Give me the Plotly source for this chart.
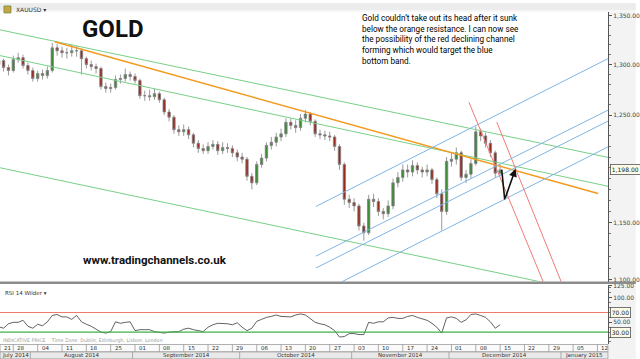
import math
import pandas as pd
import plotly.graph_objects as go

# ---------------- data ----------------
dates = pd.bdate_range("2014-07-23", "2014-12-15")
day_index = list(range(2, 2 + len(dates)))   # trading-day index, 0 = Mon 21 Jul 2014

opens = [1300,1304,1297,1294,1305,1307,1299,1294,1286,1291,
         1289,1294,1317,1314,1312,1312,1314,1314,1306,1300,
         1298,1296,1278,1276,1277,1285,1286,1290,1288,1284,
         1269,1269,1268,1271,1265,1253,1248,1236,1234,1236,
         1231,1223,1218,1216,1220,1222,1216,1219,1218,1214,
         1210,1208,1192,1186,1203,1209,1221,1224,1229,1232,
         1243,1240,1238,1247,1251,1244,1232,1231,1230,1229,
         1220,1203,1171,1168,1165,1147,1141,1171,1169,1160,
         1158,1165,1186,1191,1198,1196,1202,1198,1196,1198,
         1189,1176,1160,1206,1208,1214,1191,1194,1204,1234,
         1230,1223,1214,1195]
closes = [1304,1297,1294,1305,1307,1299,1294,1286,1291,1289,
          1294,1317,1314,1312,1312,1314,1314,1306,1300,1298,
          1296,1278,1276,1277,1285,1286,1290,1288,1284,1269,
          1269,1268,1271,1265,1253,1248,1236,1234,1236,1231,
          1223,1218,1216,1220,1222,1216,1219,1218,1214,1210,
          1208,1192,1186,1203,1209,1221,1224,1229,1232,1243,
          1240,1238,1247,1251,1244,1232,1231,1230,1229,1220,
          1203,1171,1168,1165,1147,1141,1171,1169,1160,1158,
          1165,1186,1191,1198,1196,1202,1198,1196,1198,1189,
          1176,1160,1206,1208,1214,1191,1194,1204,1234,1230,
          1223,1214,1195,1198]
highs = [1309,1306,1300,1309,1312,1310,1302,1297,1294,1295,
         1298,1322,1321,1318,1317,1320,1319,1316,1308,1304,
         1301,1298,1282,1281,1289,1290,1296,1293,1291,1286,
         1274,1275,1276,1273,1267,1256,1250,1240,1241,1239,
         1233,1226,1222,1224,1226,1225,1224,1223,1221,1217,
         1214,1210,1195,1206,1213,1224,1229,1233,1237,1247,
         1247,1245,1251,1255,1253,1246,1236,1235,1234,1231,
         1222,1205,1175,1172,1167,1150,1175,1176,1172,1163,
         1170,1190,1196,1203,1203,1207,1205,1201,1203,1200,
         1191,1180,1210,1214,1219,1216,1198,1208,1239,1237,
         1233,1226,1216,1203]
lows = [1297,1293,1289,1292,1302,1296,1290,1283,1283,1285,
        1286,1292,1309,1307,1306,1308,1308,1290,1296,1294,
        1291,1275,1272,1272,1275,1281,1283,1284,1281,1266,
        1264,1264,1265,1262,1250,1244,1232,1230,1230,1227,
        1219,1214,1213,1213,1217,1212,1213,1214,1210,1206,
        1204,1188,1180,1184,1200,1206,1217,1220,1225,1229,
        1236,1233,1235,1243,1240,1229,1227,1226,1225,1216,
        1198,1166,1163,1160,1143,1134,1139,1164,1156,1153,
        1155,1162,1182,1187,1191,1192,1194,1191,1192,1185,
        1172,1143,1157,1201,1203,1188,1186,1190,1202,1225,
        1219,1210,1191,1192]
rsi = [41,38,47,50,50,54,42,38,46,43,
       51,64,66,61,61,56,64,51,46,42,
       36,30,28,31,51,48,50,51,33,35,
       35,35,31,29,28,30,31,31,36,38,
       35,33,31,40,45,48,48,47,45,49,
       40,33,38,52,56,60,62,65,62,61,
       61,65,67,65,58,50,47,45,40,33,
       20,21,27,27,25,25,50,48,51,51,
       59,60,58,58,62,64,60,57,54,48,
       40,28,59,61,58,50,55,66,67,64,
       60,51,38,45]

# trendlines: (start index, start price, end index, end price)
green_lines = [(2.27, 1335.5, 127.16, 1209.7),
               (2.27, 1309.1, 127.16, 1182.9),
               (2.27, 1200.0, 116.55, 1095.5)]
orange_line = (13.49, 1323.2, 125.12, 1176.2)
blue_lines = [(67.16, 1164.5, 127.16, 1306.0),
              (67.16, 1120.5, 127.16, 1254.8),
              (67.16, 1110.2, 127.16, 1244.2),
              (69.61, 1092.4, 127.16, 1219.6)]
red_lines = [(98.59, 1262.6, 114.92, 1087.8),
             (104.31, 1243.3, 118.59, 1087.8)]
arrow_x = [105.33, 105.94, 108.18]
arrow_p = [1198.2, 1170.8, 1199.1]
last_price = 1198.0

week_ticks = [0,5,10,15,20,25,30,35,40,45,50,55,60,65,70,75,80,85,90,95,100,105,110,115,120,125]
week_labels = ["21","28","04","11","18","25","01","08","15","22","29","06","13","20","27",
               "03","10","17","24","01","08","15","22","29","05","12"]
month_starts = [-10, 8.5, 29.5, 51.5, 74.5, 94.5, 117.5, 140]
month_labels = ["July 2014","August 2014","September 2014","October 2014",
                "November 2014","December 2014","January 2015"]
price_ticks = [1100, 1150, 1250, 1300, 1350]
rsi_ticks = [50, 100, 125]

# ---------------- figure ----------------
W, H = 640, 359
PW, PH = 612, 344          # plot area in pixels
XR = [2.265, 127.16]

def px(xp):   # pixel x -> paper
    return xp / PW
def py(yp):   # pixel y -> paper
    return (PH - yp) / PH

fig = go.Figure()

fig.add_trace(go.Candlestick(
    x=day_index, open=opens, high=highs, low=lows, close=closes,
    increasing=dict(line=dict(color="#808080", width=0.8), fillcolor="#3d8b37"),
    decreasing=dict(line=dict(color="#808080", width=0.8), fillcolor="#9b2a1e"),
    whiskerwidth=0, xaxis="x", yaxis="y", hoverinfo="skip"))

def seg(l, color, width=1.0):
    fig.add_trace(go.Scatter(x=[l[0], l[2]], y=[l[1], l[3]], mode="lines",
                             line=dict(color=color, width=width),
                             xaxis="x", yaxis="y", hoverinfo="skip"))

for l in green_lines:
    seg(l, "#78cf88")
seg(orange_line, "#f39a1e", 1.5)
for l in blue_lines:
    seg(l, "#80b4e6")
for l in red_lines:
    seg(l, "#f27a76")

fig.add_trace(go.Scatter(x=arrow_x[:2], y=arrow_p[:2], mode="lines",
                         line=dict(color="#111", width=1.6), xaxis="x", yaxis="y"))
fig.add_annotation(x=arrow_x[2], y=math.log10(arrow_p[2]), ax=arrow_x[1],
                   ay=math.log10(arrow_p[1]), xref="x", yref="y", axref="x", ayref="y",
                   showarrow=True, arrowhead=2, arrowsize=1, arrowwidth=1.6,
                   arrowcolor="#111", text="")

# RSI
fig.add_trace(go.Scatter(x=day_index, y=rsi, mode="lines",
                         line=dict(color="#3a3a3a", width=0.8), xaxis="x", yaxis="y2"))
fig.add_trace(go.Scatter(x=[XR[0], XR[1]], y=[70, 70], mode="lines",
                         line=dict(color="#f07a6a", width=1.2), xaxis="x", yaxis="y2"))
fig.add_trace(go.Scatter(x=[XR[0], XR[1]], y=[30, 30], mode="lines",
                         line=dict(color="#3fb24a", width=1.2), xaxis="x", yaxis="y2"))

minor_p = [v for v in range(1100, 1361, 10)]
fig.update_layout(
    width=W, height=H, margin=dict(l=0, r=W - PW, t=0, b=H - PH),
    paper_bgcolor="white", plot_bgcolor="white", showlegend=False,
    xaxis=dict(domain=[0, 1], range=XR, anchor="y2", showticklabels=False,
               showgrid=False, zeroline=False, rangeslider=dict(visible=False),
               showline=False, ticks=""),
    yaxis=dict(domain=[py(281), 1], type="log",
               range=[math.log10(1098.6), math.log10(1363.6)],
               side="right", tickvals=price_ticks,
               ticktext=[f"{v:,.2f}" for v in price_ticks],
               ticks="outside", ticklen=3, tickcolor="#555",
               tickfont=dict(size=6, color="#444", family="DejaVu Sans"),
               showgrid=False, zeroline=False, showline=True, linecolor="#555",
               minor=dict(tickvals=minor_p, ticks="outside", ticklen=2, tickcolor="#777")),
    yaxis2=dict(domain=[0, py(284)], range=[5.8, 127], side="right",
                tickvals=rsi_ticks, ticktext=[f"{v:.2f}" for v in rsi_ticks],
                ticks="outside", ticklen=3, tickcolor="#555",
                tickfont=dict(size=6, color="#444", family="DejaVu Sans"),
                showgrid=False, zeroline=False, showline=True, linecolor="#555",
                minor=dict(tickvals=list(range(10, 126, 10)), ticks="outside",
                           ticklen=2, tickcolor="#777")),
)

shapes = []
# top header strip
shapes.append(dict(type="rect", xref="paper", yref="paper", x0=0, x1=px(W), y0=py(7), y1=py(0),
                   fillcolor="#ececec", line=dict(width=0), layer="above"))
shapes.append(dict(type="rect", xref="paper", yref="paper", x0=0, x1=px(W), y0=py(9), y1=py(7),
                   fillcolor="#f6f6f6", line=dict(width=0), layer="above"))
# right axis panel background
shapes.append(dict(type="rect", xref="paper", yref="paper", x0=1.0015, x1=px(W), y0=py(H), y1=py(9),
                   fillcolor="#f3f3f3", line=dict(width=0), layer="below"))
# panel separator
shapes.append(dict(type="rect", xref="paper", yref="paper", x0=0, x1=px(W), y0=py(283.5), y1=py(281),
                   fillcolor="#8c8c8c", line=dict(width=0)))
# date axis rows
shapes.append(dict(type="rect", xref="paper", yref="paper", x0=0, x1=1, y0=py(352), y1=py(344.5),
                   fillcolor="#fafafa", line=dict(color="#9a9a9a", width=0.8)))
shapes.append(dict(type="rect", xref="paper", yref="paper", x0=0, x1=1, y0=py(359), y1=py(352),
                   fillcolor="#e9e9e9", line=dict(color="#9a9a9a", width=0.8)))
for t in week_ticks:
    if XR[0] < t < XR[1]:
        shapes.append(dict(type="line", xref="x", yref="paper", x0=t, x1=t, y0=py(352), y1=py(344.5),
                           line=dict(color="#9a9a9a", width=0.8)))
for t in month_starts:
    if XR[0] < t < XR[1]:
        shapes.append(dict(type="line", xref="x", yref="paper", x0=t, x1=t, y0=py(359), y1=py(352),
                           line=dict(color="#9a9a9a", width=0.8)))
# icon
shapes.append(dict(type="rect", xref="paper", yref="paper", x0=px(4), x1=px(11), y0=py(10), y1=py(3),
                   fillcolor="#c9a441", line=dict(color="#6a8a3a", width=0.8), layer="above"))
fig.update_layout(shapes=shapes)

ann = []
def text(x, y, s, size, color="#222", xa="left", ya="middle", family="DejaVu Sans", **kw):
    ann.append(dict(x=x, y=y, xref="paper", yref="paper", text=s, showarrow=False,
                    xanchor=xa, yanchor=ya, font=dict(size=size, color=color, family=family), **kw))

text(px(14), py(7), "XAUUSD ▾", 6, "#333")
text(px(114), py(26), "<b>GOLD</b>", 24, "#111", xa="center", family="Roboto")
text(px(362), py(8.5),
     "Gold couldn’t take out its head after it sunk<br>below the orange resistance. I can now see<br>"
     "the possibility of the red declining channel<br>forming which would target the blue<br>bottom band.",
     8.2, "#000", ya="top", family="Roboto", align="left")
text(px(156), py(259), "<b>www.tradingchannels.co.uk</b>", 11.5, "#111", xa="center", family="Roboto")
text(px(3), py(293), "RSI 14 Wilder ▾", 5.5, "#333")
text(px(1), py(340.5), "INDICATIVE PRICE    Time Zone: Dublin, Edinburgh, Lisbon, London", 4.8, "#9a9a9a")

# boxed value labels on the right axis
def box(yv, yref, s):
    ann.append(dict(x=1.003, y=yv, xref="paper", yref=yref, text=s, showarrow=False,
                    xanchor="left", yanchor="middle", font=dict(size=6, color="#222", family="DejaVu Sans"),
                    bgcolor="#fbfbe8", bordercolor="#555", borderwidth=0.8, borderpad=1))
box(math.log10(last_price), "y", f"{last_price:,.2f}")
box(70, "y2", "70.00")
box(30, "y2", "30.00")

for t, lab in zip(week_ticks, week_labels):
    xp = max(t, XR[0])
    if xp < XR[1] - 1:
        ann.append(dict(x=xp, y=py(348.3), xref="x", yref="paper", text=lab, showarrow=False,
                        xanchor="left", xshift=2, yanchor="middle",
                        font=dict(size=5.5, color="#333", family="DejaVu Sans")))
for a, b, lab in zip(month_starts[:-1], month_starts[1:], month_labels):
    lo, hi = max(a, XR[0]), min(b, XR[1])
    ann.append(dict(x=(lo + hi) / 2, y=py(355.6), xref="x", yref="paper", text=lab, showarrow=False,
                    xanchor="center", yanchor="middle",
                    font=dict(size=5.5, color="#333", family="DejaVu Sans")))

fig.update_layout(annotations=list(fig.layout.annotations) + ann)
fig.write_html("out.html")
